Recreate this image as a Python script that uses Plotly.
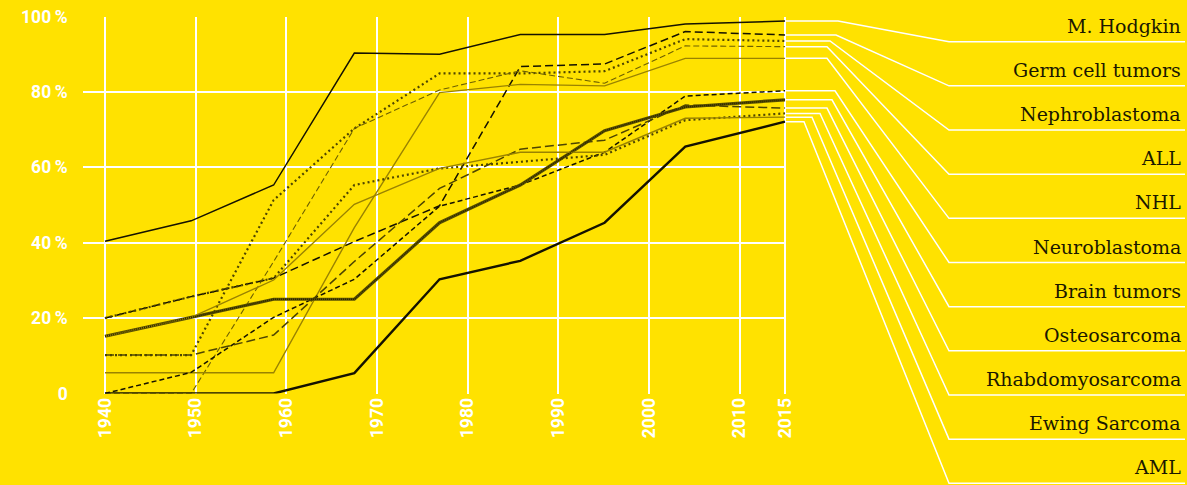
import plotly.graph_objects as go

# ---------------- data ----------------
years = [1940, 1949.5, 1958.6, 1967.5, 1976.9, 1985.8, 1995.1, 2004, 2015]

hodgkin = [40.4, 45.8, 55.3, 90.3, 90.0, 95.2, 95.2, 98.0, 98.8]
germ_cell = [20.0, 25.7, 30.6, 40.3, 49.8, 86.7, 87.4, 96.0, 95.1]
nephroblastoma = [10.2, 10.2, 51.3, 70.3, 84.9, 84.9, 85.5, 94.0, 93.5]
all_leuk = [0.0, 0.0, 35.0, 70.3, 80.5, 85.6, 82.3, 92.2, 92.0]
nhl = [5.5, 5.5, 5.5, 44.0, 79.8, 82.0, 81.6, 88.9, 88.9]
neuroblastoma = [0.0, 5.6, 20.2, 30.3, 49.7, 55.3, 64.0, 78.9, 80.3]
brain = [15.2, 20.2, 25.0, 25.0, 45.3, 55.3, 69.7, 76.0, 77.9]
osteosarcoma = [10.2, 10.2, 15.5, 35.0, 54.4, 64.8, 67.2, 76.5, 75.7]
rhabdo = [20.0, 25.7, 30.6, 55.3, 59.7, 61.5, 63.3, 72.5, 74.3]
ewing = [15.2, 20.2, 30.1, 50.2, 59.7, 64.0, 64.0, 73.0, 73.3]
aml = [0.0, 0.0, 0.0, 5.4, 30.3, 35.2, 45.3, 65.5, 72.1]

labels = ["M. Hodgkin", "Germ cell tumors", "Nephroblastoma", "ALL", "NHL",
          "Neuroblastoma", "Brain tumors", "Osteosarcoma", "Rhabdomyosarcoma",
          "Ewing Sarcoma", "AML"]

x_tick_vals = [1940, 1950, 1960, 1970, 1980, 1990, 2000, 2010, 2015]
x_tick_text = ["1940", "1950", "1960", "1970", "1980", "1990", "2000", "2010", "2015"]
y_tick_vals = [0, 20, 40, 60, 80, 100]
y_tick_text = ["0", "20\u2009%", "40\u2009%", "60\u2009%", "80\u2009%", "100\u2009%"]

# ---------------- styles / layout constants ----------------
W, H = 1187, 485
BG = "#FFE200"
PL, PR = 82.7, 786.0      # plot area left/right px
PT, PB = 16.5, 393.5      # plot area top/bottom px
XR = [1937.54, 2015.11]
YR = [0, 100]

BLACK = "#151200"
DARK = "#4e4500"
OLIVE = "#9a8300"
MID = "#6e6000"

series = [
    (hodgkin, dict(color=BLACK, width=1.5)),
    (germ_cell, dict(color=BLACK, width=1.5, dash="8px,4px")),
    (nephroblastoma, dict(color=DARK, width=2.2, dash="2px,3px")),
    (all_leuk, dict(color=MID, width=1.1, dash="6px,3px")),
    (nhl, dict(color=OLIVE, width=1.4)),
    (neuroblastoma, dict(color=BLACK, width=1.5, dash="5px,3px")),
    (brain, dict(color="#5c5200", width=3.2)),
    (osteosarcoma, dict(color=DARK, width=1.5, dash="9px,4px")),
    (rhabdo, dict(color=DARK, width=2.2, dash="2px,3px")),
    (ewing, dict(color=OLIVE, width=1.4)),
    (aml, dict(color=BLACK, width=2.4)),
]

fig = go.Figure()
for vals, ln in series:
    fig.add_trace(go.Scatter(x=years, y=vals, mode="lines", line=ln,
                             cliponaxis=False, hoverinfo="skip", showlegend=False))
# texture for the brain-tumour line
fig.add_trace(go.Scatter(x=years, y=brain, mode="lines",
                         line=dict(color="#2a2500", width=1.6, dash="1px,1px"),
                         cliponaxis=False, hoverinfo="skip", showlegend=False))

# ---------------- leader lines and labels ----------------
def xpx(v):
    return PL + (v - XR[0]) / (XR[1] - XR[0]) * (PR - PL)

def ypx(v):
    return PB - (v - YR[0]) / (YR[1] - YR[0]) * (PB - PT)

bend_x = [838, 836, 830, 827, 827, 835, 832, 827, 820, 812, 804]
label_y0, label_step = 41.7, 44.16
diag_end_x, line_end_x = 949, 1185

for i, (vals, _) in enumerate(series):
    y0 = ypx(vals[-1])
    x0 = xpx(years[-1])
    ly = label_y0 + i * label_step
    fig.add_trace(go.Scatter(x=[x0, bend_x[i], diag_end_x, line_end_x],
                             y=[y0, y0, ly, ly], mode="lines",
                             line=dict(color="white", width=1.5),
                             xaxis="x2", yaxis="y2", cliponaxis=False,
                             hoverinfo="skip", showlegend=False))
    fig.add_annotation(x=1183, y=ly - 3, xref="x2", yref="y2", text=labels[i],
                       showarrow=False, xanchor="right", yanchor="bottom",
                       font=dict(family="DejaVu Serif", size=19, color="#1a1800"))

tick_font = dict(family="Roboto", size=17.5, color="white", weight="bold")

fig.update_layout(
    template="none",
    width=W, height=H,
    margin=dict(l=0, r=0, t=0, b=0, pad=0, autoexpand=False),
    paper_bgcolor=BG, plot_bgcolor="rgba(0,0,0,0)",
    showlegend=False,
    xaxis=dict(domain=[PL / W, PR / W], range=XR, tickvals=x_tick_vals,
               ticktext=x_tick_text, tickangle=-90, showgrid=True,
               gridcolor="white", gridwidth=2, zeroline=False, showline=False,
               ticks="", tickfont=tick_font, fixedrange=True, automargin=False),
    yaxis=dict(domain=[(H - PB) / H, (H - PT) / H], range=YR,
               tickvals=y_tick_vals, ticktext=y_tick_text, showgrid=True,
               gridcolor="white", gridwidth=2, zeroline=False, showline=False,
               ticks="", tickfont=tick_font, ticklabelstandoff=14, fixedrange=True,
               automargin=False),
    xaxis2=dict(domain=[0, 1], range=[0, W], visible=False, anchor="y2",
                fixedrange=True, automargin=False),
    yaxis2=dict(domain=[0, 1], range=[H, 0], visible=False, anchor="x2",
                fixedrange=True, automargin=False),
)

fig.write_html("out.html", config={"displayModeBar": False},
               post_script="document.body.style.margin='0';document.documentElement.style.overflow='hidden';")
